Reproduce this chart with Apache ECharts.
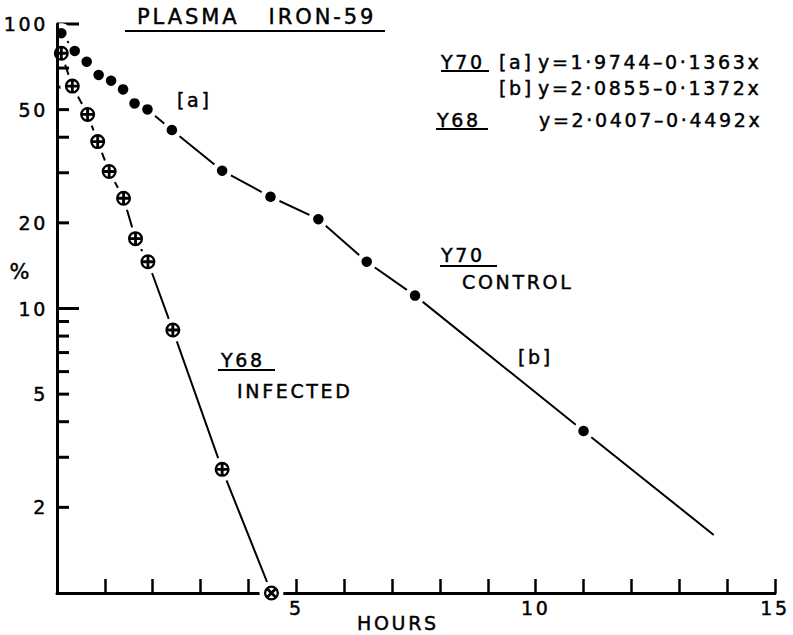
<!DOCTYPE html>
<html>
<head>
<meta charset="utf-8">
<script src="https://cdn.jsdelivr.net/npm/echarts@6/dist/echarts.min.js"></script>
<style>
  html, body { margin: 0; padding: 0; background: #fff; }
  #chart { width: 793px; height: 635px; }
  /* widely spaced stencil-style lettering, slightly heavier strokes */
  #chart svg text { letter-spacing: 0.14em; stroke: #000; stroke-width: 0.45px; }
</style>
</head>
<body>
<div id="chart"></div>
<script>
// Y70 (control): plasma iron-59 remaining, % of initial, against time in hours
const controlHours = [0.09, 0.37, 0.62, 0.87, 1.13, 1.38, 1.62, 1.89, 2.40, 3.45, 4.46, 5.46, 6.47, 7.48, 11.0];
const controlPct   = [92.8, 80.4, 73.7, 66.2, 63.2, 58.9, 52.6, 50.1, 42.4, 30.5, 24.7, 20.6, 14.6, 11.1, 3.71];
// fitted line [b] carried on past the last sample
const controlFitEnd = [13.72, 1.60];

// Y68 (infected)
const infectedHours = [0.09, 0.32, 0.64, 0.85, 1.09, 1.39, 1.64, 1.90, 2.42, 3.45, 4.48];
const infectedPct   = [78.9, 60.5, 48.1, 38.6, 30.3, 24.4, 17.6, 14.6, 8.40, 2.72, 1.0];

// axis ticks and labels
const yTickValues  = [2, 3, 4, 5, 6, 7, 8, 9, 10, 20, 30, 40, 50, 60, 70, 80, 90, 100];
const yMajorTicks  = [10, 100];
const yLabelValues = [2, 5, 10, 20, 50, 100];
const xLabelValues = [5, 10, 15];

const FONT = '"DejaVu Sans", "Liberation Sans", sans-serif';
const INK = '#000';

// circle with a cross through it (ring drawn as outer CW + inner CCW contour)
const crossedCircle = 'path://M0,-10 A10,10 0 1 1 0,10 A10,10 0 1 1 0,-10 Z ' +
  'M0,-6.9 A6.9,6.9 0 1 0 0,6.9 A6.9,6.9 0 1 0 0,-6.9 Z ' +
  'M-1.9,-8 L1.9,-8 L1.9,8 L-1.9,8 Z M-8,-1.9 L8,-1.9 L8,1.9 L-8,1.9 Z';

const controlPoints = controlHours.map((h, i) => [h, controlPct[i]]);
const infectedPoints = infectedHours.map((h, i) => [h, infectedPct[i]]);

function txt(x, y, text, size, align) {
  return {
    type: 'text', x: x, y: y, silent: true, z: 10,
    style: {
      text: text, fill: INK, font: size + 'px ' + FONT,
      textAlign: align || 'left', textVerticalAlign: 'middle'
    }
  };
}
function rule(x1, x2, y) {
  return {
    type: 'line', silent: true, z: 10,
    shape: { x1: x1, y1: y, x2: x2, y2: y },
    style: { stroke: INK, lineWidth: 2 }
  };
}

const chart = echarts.init(document.getElementById('chart'), null, { renderer: 'svg' });

chart.setOption({
  animation: false,
  backgroundColor: '#fff',
  grid: { left: 57, right: 18, top: 24, bottom: 42 },
  xAxis: {
    type: 'value', min: 0, max: 15, interval: 1,
    axisLine: { onZero: false, lineStyle: { color: INK, width: 3 } },
    axisTick: { inside: true, length: 14, lineStyle: { color: INK, width: 2.5 } },
    axisLabel: {
      color: INK, fontSize: 19, fontFamily: FONT, margin: 5,
      formatter: v => (xLabelValues.indexOf(v) >= 0 ? String(v) : '')
    },
    splitLine: { show: false }
  },
  yAxis: {
    type: 'log', logBase: 10, min: 1, max: 100, z: 5,
    axisLine: { show: true, lineStyle: { color: INK, width: 3 } },
    axisTick: { show: false },
    axisLabel: { show: false },
    minorTick: { show: false },
    splitLine: { show: false }
  },
  graphic: [
    txt(137, 17, 'PLASMA\u00a0\u00a0\u00a0IRON-59', 21),
    rule(125, 385, 31),

    txt(441, 62, 'Y70', 19), rule(441, 489, 71),
    txt(499, 62, '[a]', 19),
    txt(538, 62, 'y=1·9744–0·1363x', 19),
    txt(499, 88, '[b]', 19),
    txt(538, 88, 'y=2·0855–0·1372x', 19),
    txt(437, 120, 'Y68', 19), rule(436, 488, 129),
    txt(539, 120, 'y=2·0407–0·4492x', 19),

    txt(177, 100, '[a]', 19),
    txt(441, 255, 'Y70', 19), rule(440, 497, 266),
    txt(462, 282, 'CONTROL', 19),
    txt(518, 357, '[b]', 19),
    txt(221, 360, 'Y68', 19), rule(218, 275, 370),
    txt(237, 391, 'INFECTED', 19),

    txt(21, 272, '%', 21, 'center'),
    txt(357, 623, 'HOURS', 19)
  ],
  series: [
    {
      // y-axis ticks (pointing into the plot) and their labels
      type: 'custom', coordinateSystem: 'cartesian2d', silent: true, clip: false, z: 1,
      data: yTickValues.map(v => [0, v]),
      renderItem: function (params, api) {
        const v = api.value(1);
        const p = api.coord([0, v]);
        const len = yMajorTicks.indexOf(v) >= 0 ? 22 : 12;
        const children = [{
          type: 'line',
          shape: { x1: p[0], y1: p[1], x2: p[0] + len, y2: p[1] },
          style: { stroke: INK, lineWidth: 3 }
        }];
        if (yLabelValues.indexOf(v) >= 0) {
          children.push({
            type: 'text', x: p[0] - 9, y: p[1],
            style: {
              text: String(v), fill: INK, font: '19px ' + FONT,
              textAlign: 'right', textVerticalAlign: 'middle'
            }
          });
        }
        return { type: 'group', children: children };
      }
    },
    {
      // control: joining line, with white halos leaving gaps round each point
      name: 'Y70 line', type: 'line', clip: false, silent: true, z: 2,
      data: controlPoints.concat([{ value: controlFitEnd, symbol: 'none' }]),
      symbol: 'circle', symbolSize: 20,
      itemStyle: { color: '#fff', borderWidth: 0 },
      lineStyle: { color: INK, width: 2 }
    },
    {
      name: 'Y68 line', type: 'line', clip: false, silent: true, z: 2,
      data: infectedPoints,
      symbol: 'circle', symbolSize: 24,
      itemStyle: { color: '#fff', borderWidth: 0 },
      lineStyle: { color: INK, width: 2 }
    },
    {
      name: 'Y70 control', type: 'scatter', clip: false, silent: true, z: 3,
      data: controlPoints,
      symbol: 'circle', symbolSize: 10.5,
      itemStyle: { color: INK, opacity: 1 }
    },
    {
      name: 'Y68 infected', type: 'scatter', clip: false, silent: true, z: 3,
      data: infectedPoints.map((pt, i) =>
        i === infectedPoints.length - 1 ? { value: pt, symbolRotate: 45 } : pt),
      symbol: crossedCircle, symbolSize: 15,
      itemStyle: { color: INK, opacity: 1 }
    }
  ]
});
</script>
</body>
</html>
